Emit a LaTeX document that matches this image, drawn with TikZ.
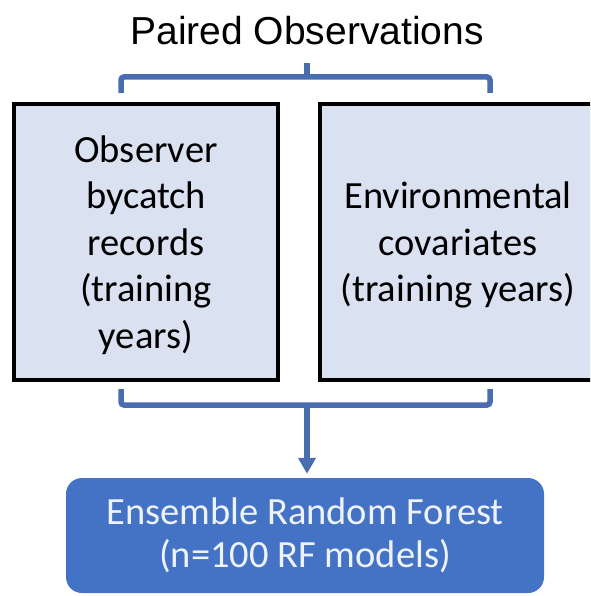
\documentclass[tikz,border=0pt]{standalone}
\usepackage{fontspec}
\setmainfont{Carlito}
\newfontfamily\titlefont{Liberation Sans}
\usetikzlibrary{arrows.meta}
\definecolor{boxfill}{HTML}{DAE2F1}
\definecolor{brk}{HTML}{4A6DB0}
\definecolor{ensfill}{HTML}{4472C4}
\definecolor{enstext}{HTML}{EEF3FA}
\tikzset{
  inbox/.style={draw=black, line width=4pt, fill=boxfill, inner sep=0pt,
    align=center, text=black},
  boxtext/.style={font=\fontsize{38.5}{46.5}\selectfont, align=center, inner sep=0pt},
  bracket/.style={draw=brk, line width=5.5pt, rounded corners=3pt},
  ensbox/.style={fill=ensfill, rounded corners=16pt, inner sep=0pt,
    align=center, font=\fontsize{38.5}{43}\selectfont, text=enstext},
}
\begin{document}
\begin{tikzpicture}[x=1pt,y=-1pt]
\clip (0,0) rectangle (590,596);
\fill[white] (0,0) rectangle (590,596);
\node[anchor=base, font=\titlefont\fontsize{39}{44}\selectfont] (title) at (307,45) {Paired Observations};
\node[inbox, minimum width=264pt, minimum height=276pt] (obs) at (146,242) {};
\node[boxtext] (obstext) at (146,245) {Observer\\bycatch\\records\\(training\\years)};
\node[inbox, minimum width=280pt, minimum height=276pt] (env) at (460,242) {};
\node[boxtext] (envtext) at (458,245) {Environmental\\covariates\\(training years)};
\node[ensbox, minimum width=478pt, minimum height=115pt] (ens) at (305,535.5)
  {Ensemble Random Forest\\(n=100 RF models)};
% top bracket
\coordinate (tl) at (121,93);
\coordinate (tr) at (490,93);
\coordinate (tc) at (307,77);
\coordinate (tt) at (307,63);
\draw[bracket] (tl) -- (121,77) -- (490,77) -- (tr);
\draw[draw=brk, line width=5.5pt] (tc) -- (tt);
% bottom bracket
\coordinate (bl) at (121,389);
\coordinate (br) at (490,389);
\coordinate (bc) at (307,405);
\draw[bracket] (bl) -- (121,405) -- (490,405) -- (br);
\draw[draw=brk, line width=5.5pt, -{Triangle[length=16pt,width=17pt]}, shorten >=4pt] (bc) -- (bc |- ens.north);
\end{tikzpicture}
\end{document}
